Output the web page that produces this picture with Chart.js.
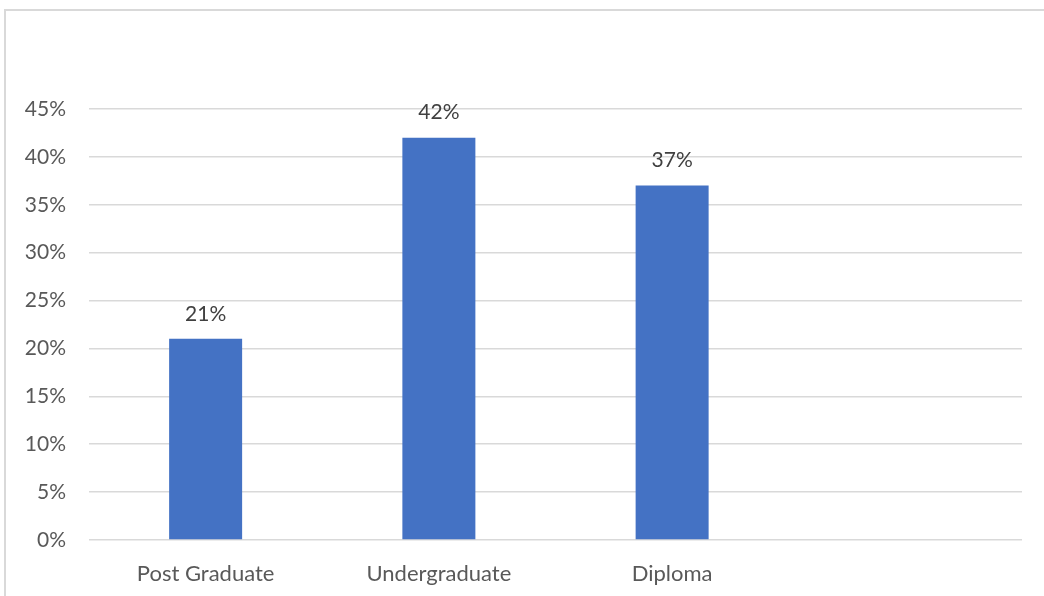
<!DOCTYPE html>
<html>
<head>
<meta charset="utf-8">
<script src="https://cdn.jsdelivr.net/npm/chart.js@4"></script>
<style>
  html, body { margin: 0; padding: 0; background: #fff; overflow: hidden; }
  #frame {
    position: absolute; left: 4px; top: 9px; width: 1060px; height: 620px;
    border: 2px solid #d9d9d9; box-sizing: border-box;
  }
  #wrap { position: absolute; left: 0; top: 0; width: 1044px; height: 596px; }
</style>
</head>
<body>
<div id="frame"></div>
<div id="wrap"><canvas id="barChart" width="1044" height="596"></canvas></div>
<script>
const categories = ["Post Graduate", "Undergraduate", "Diploma", ""];
const shares = [21, 42, 37, null];
const yTicks = [0, 5, 10, 15, 20, 25, 30, 35, 40, 45];

const fontFamily = "Lato, 'Open Sans', sans-serif";

// draws the value above every bar
const valueLabels = {
  id: "valueLabels",
  afterDatasetsDraw(chart) {
    const ctx = chart.ctx;
    const meta = chart.getDatasetMeta(0);
    ctx.save();
    ctx.font = "21px " + fontFamily;
    ctx.fillStyle = "#404040";
    ctx.textAlign = "center";
    ctx.textBaseline = "middle";
    meta.data.forEach((bar, i) => {
      if (shares[i] == null) return;
      ctx.fillText(shares[i] + "%", bar.x, bar.y - 25);
    });
    ctx.restore();
  }
};

function barChart() {
  let ctx = document.getElementById("barChart").getContext("2d");
  new Chart(ctx, {
    type: "bar",
    data: {
      labels: categories,
      datasets: [
        {
          data: shares,
          backgroundColor: "#4472C4",
          borderWidth: 0,
          categoryPercentage: 1,
          barPercentage: 0.313
        }
      ]
    },
    options: {
      responsive: false,
      animation: false,
      layout: { padding: { top: 109, right: 22, bottom: 0, left: 0 } },
      plugins: { legend: { display: false }, tooltip: { enabled: false } },
      scales: {
        x: {
          grid: { display: false },
          border: { display: false },
          ticks: {
            color: "#595959",
            font: { family: fontFamily, size: 22 },
            padding: 13,
            maxRotation: 0
          },
          afterFit(scale) { scale.height = 56; }
        },
        y: {
          min: 0,
          max: 45,
          afterBuildTicks(scale) { scale.ticks = yTicks.map(v => ({ value: v })); },
          grid: { color: "#d9d9d9", lineWidth: 1.5, drawTicks: false },
          border: { display: false },
          ticks: {
            color: "#595959",
            font: { family: fontFamily, size: 21 },
            padding: 23,
            callback: v => v + "%"
          },
          afterFit(scale) { scale.width = 89; }
        }
      }
    },
    plugins: [valueLabels]
  });
}

barChart();
</script>
</body>
</html>
